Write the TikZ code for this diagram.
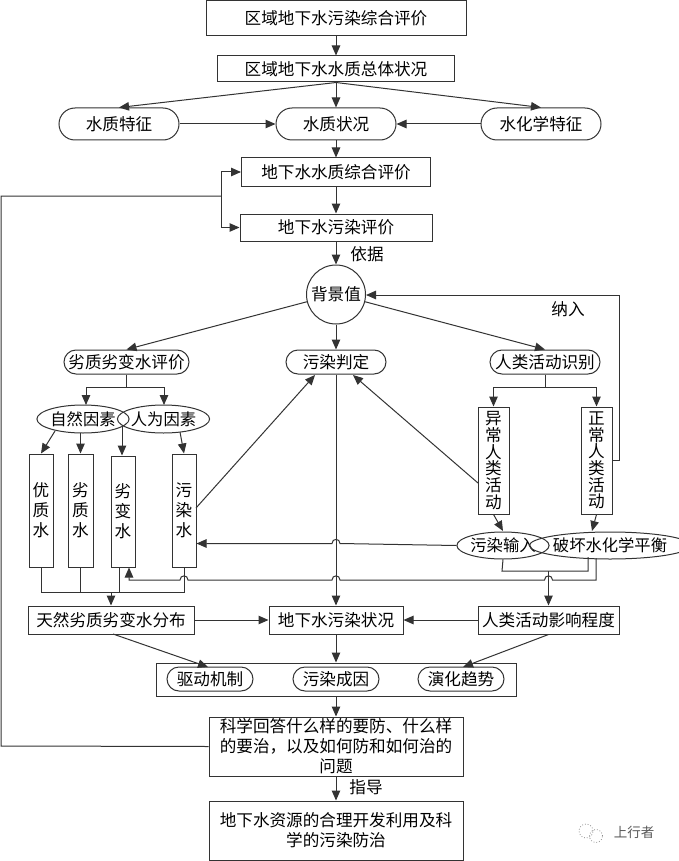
\documentclass[tikz,border=0pt]{standalone}
\usepackage{fontspec}
\setmainfont{Noto Sans CJK SC}
\usetikzlibrary{arrows.meta,shapes.geometric,calc}
\tikzset{
 lin/.style={draw=black!80,line width=1pt},
 arr/.style={lin,-{Triangle[length=10pt,width=8.5pt]}},
 box/.style={lin,inner sep=0pt,font=\fontsize{16.6}{20}\selectfont,align=center,anchor=center},
 pill/.style={box,rounded corners=#1},
 oval/.style={lin,ellipse,inner sep=0pt,font=\fontsize{16.3}{20}\selectfont,anchor=center},
 lab/.style={font=\fontsize{16.6}{20}\selectfont,inner sep=0pt},
 tall/.style={box,font=\fontsize{16.6}{16.7}\selectfont},
}
\newcommand{\bx}[6][box]{\node[#1,minimum width=#4pt,minimum height=#5pt] (#2) at (#3) {#6};}
\begin{document}
\begin{tikzpicture}[x=1pt,y=-1pt]
\useasboundingbox (0,0) rectangle (679,861);
\fill[white] (0,0) rectangle (679,861);
% top
\bx{t1}{336,18.5}{260}{35}{区域地下水污染综合评价}
\bx{t2}{336,69}{237}{26}{区域地下水水质总体状况}
\bx[pill=16pt]{p1}{119,124}{120}{32}{水质特征}
\bx[pill=16pt]{p2}{336,124}{120}{32}{水质状况}
\bx[pill=16pt]{p3}{541,124}{120}{32}{水化学特征}
\bx{e1}{336,172}{189}{28}{地下水水质综合评价}
\bx{e2}{336,227.5}{192}{27}{地下水污染评价}
\node[lin,circle,minimum size=59pt,inner sep=0pt,font=\fontsize{16.6}{20}\selectfont] (bg) at (336,294.5) {背景值};
\node[lab] (yj) at (367,254) {依据};
\node[lab] (nr) at (568,309) {纳入};
% row 2
\bx[pill=12pt]{a1}{126.5,362}{125}{24}{劣质劣变水评价}
\bx[pill=12pt]{a2}{336,362}{100}{24}{污染判定}
\bx[pill=12pt]{a3}{545,362}{110}{24}{人类活动识别}
% ovals
\node[oval,minimum width=90pt,minimum height=28pt] (o1) at (83,419) {自然因素};
\node[oval,minimum width=89pt,minimum height=28pt] (o2) at (163.5,419) {人为因素};
\node[oval,minimum width=90pt,minimum height=27pt] (o3) at (503,545.5) {污染输入};
\node[oval,minimum width=136pt,minimum height=27pt] (o4) at (610,545.5) {破坏水化学平衡};
% columns
\bx{c1}{41,510.5}{24}{113}{优\\质\\水}
\bx{c2}{80.5,510.5}{25}{113}{劣\\质\\水}
\bx{c3}{123,511.5}{24}{111}{劣\\变\\水}
\bx{c4}{184,510.5}{24}{113}{污\\染\\水}
\bx[tall]{h1}{493.5,460.5}{31}{107}{异\\常\\人\\类\\活\\动}
\bx[tall]{h2}{596.5,460.5}{31}{107}{正\\常\\人\\类\\活\\动}
% row 3
\bx{d1}{111,620}{166}{28}{天然劣质劣变水分布}
\bx{d2}{336,620}{134}{28}{地下水污染状况}
\bx{d3}{548.5,620}{141}{28}{人类活动影响程度}
% group
\bx{g}{336,679.5}{360}{33}{}
\bx[pill=12pt]{g1}{210,679}{86}{24}{驱动机制}
\bx[pill=12pt]{g2}{336,679}{86}{24}{污染成因}
\bx[pill=12pt]{g3}{461,679}{86}{24}{演化趋势}
\bx{s}{336,746.5}{254}{59}{科学回答什么样的要防、什么样\\的要治，以及如何防和如何治的\\问题}
\bx{f}{336,830.5}{254}{59}{地下水资源的合理开发利用及科\\学的污染防治}
\node[lab] (zd) at (366,787) {指导};
\node[font=\fontsize{13.5}{15}\selectfont,text=black!65,inner sep=0pt] (wm) at (634,832) {上行者};
\node[draw=black!45,dotted,line width=.8pt,circle,minimum size=14pt,inner sep=0pt] (ic1) at (586,831) {};
\node[draw=black!45,dotted,line width=.8pt,circle,minimum size=13pt,inner sep=0pt] (ic2) at (596,836) {};
% free ends
\coordinate (lp) at (221,196);
\coordinate (lb) at (1,746);
\coordinate (lc) at (1,196);
\coordinate (rj) at (619.5,460);
\coordinate (rt) at (619.5,295);
\coordinate (a1d) at (126.5,387);
\coordinate (a1l) at (86,387);
\coordinate (a1r) at (164,387);
\coordinate (o1a) at (86,405);
\coordinate (o2a) at (164,405);
\coordinate (a3d) at (545,387);
% connectors top
\draw[arr] (t1) -- (t2);
\draw[arr] (t2.south) -- (p1.north);
\draw[arr] (t2) -- (p2);
\draw[arr] (t2.south) -- (p3.north);
\draw[arr] (p1) -- (p2);
\draw[arr] (p3) -- (p2);
\draw[arr] (p2) -- (e1);
\draw[arr] (e1) -- (e2);
\draw[arr] (e2) -- (bg);
\draw[arr] (lp) |- (e1.west);
\draw[arr] (lp) |- (e2.west);
\draw[lin] (s.west) -- (lb) -- (lc) -- (lp);
% background outgoing
\draw[arr] (bg.194) -- (a1.north);
\draw[arr] (bg) -- (a2);
\draw[arr] (bg.346) -- (a3.north);
\draw[lin] (h2.east|-rj) -- (rj) -- (rt);
\draw[arr] (rt) -- (bg.east|-rt);
% left tree
\draw[lin] (a1.south) -- (a1d);
\draw[lin] (a1l) -- (a1r);
\draw[arr] (a1l) -- (o1a);
\draw[arr] (a1r) -- (o2a);
\coordinate (o1c1) at (55,431);
\coordinate (o1c2) at (80.5,433);
\coordinate (o2c3) at (122,426);
\coordinate (o2c4) at (180,432);
\draw[arr] (o1c1) -- (c1.north);
\draw[arr] (o1c2) -- (c2.north);
\draw[arr] (o2c3) -- (o2c3|-c3.north);
\draw[arr] (o2c4) -- (c4.north);
\coordinate (c4out) at (196,508);
\coordinate (a2in) at (315,375);
\draw[arr] (c4out) -- (a2in);
% right tree
\draw[lin] (a3.south) -- (a3d);
\draw[arr] (a3d) -| (h1.north);
\draw[arr] (a3d) -| (h2.north);
\coordinate (h1out) at (478,483);
\coordinate (a2in2) at (353,375);
\draw[arr] (h1out) -- (a2in2);
\coordinate (o3in) at (503,531);
\coordinate (o4in) at (592,531);
\draw[arr] (h1.south) -- (o3in);
\draw[arr] (h2.south) -- (o4in);
% pollution input to c4, hopping over the centre line
\draw[arr] (o3.west) -- (340,543.5) .. controls (340,538) and (332,538) .. (332,543.5) -- (c4.east|-332,543.5);
% merge below the two ovals
\coordinate (m1) at (502,571);
\coordinate (m2) at (588,571);
\coordinate (m3) at (588,557);
\coordinate (mj) at (548.5,571);
\draw[lin] (o3.south) -- (m1) -- (m2) -- (m3);
\draw[arr] (mj) -- (mj|-d3.north);
% water chemistry line to c3, hopping three verticals
\coordinate (q1) at (596,558);
\coordinate (q2) at (596,580);
\coordinate (q3) at (129,580);
\draw[arr] (q1) -- (q2) -- (552.5,580) .. controls (552.5,574.5) and (544.5,574.5) .. (544.5,580) -- (340,580) .. controls (340,574.5) and (332,574.5) .. (332,580) -- (188,580) .. controls (188,574.5) and (180,574.5) .. (180,580) -- (q3) -- (q3|-c3.south);
% bottom of columns
\coordinate (b1) at (41,592);
\coordinate (b4) at (184,592);
\coordinate (b2) at (80.5,592);
\coordinate (b3) at (119,592);
\coordinate (bm) at (111,592);
\draw[lin] (c1.south) -- (b1) -- (b4) -- (c4.south);
\draw[lin] (c2.south) -- (b2);
\draw[lin] (b3|-c3.south) -- (b3);
\draw[arr] (bm) -- (d1.north);
% row 3
\draw[arr] (a2) -- (d2);
\draw[arr] (d1) -- (d2);
\draw[arr] (d3) -- (d2);
\coordinate (d1o) at (113,634);
\coordinate (g1in) at (208,667);
\coordinate (g3in) at (463,667);
\draw[arr] (d1o) -- (g1in);
\draw[arr] (d2) -- (g);
\draw[arr] (d3.south) -- (g3in);
\draw[arr] (g) -- (s);
\draw[arr] (s) -- (f);
\end{tikzpicture}
\end{document}
